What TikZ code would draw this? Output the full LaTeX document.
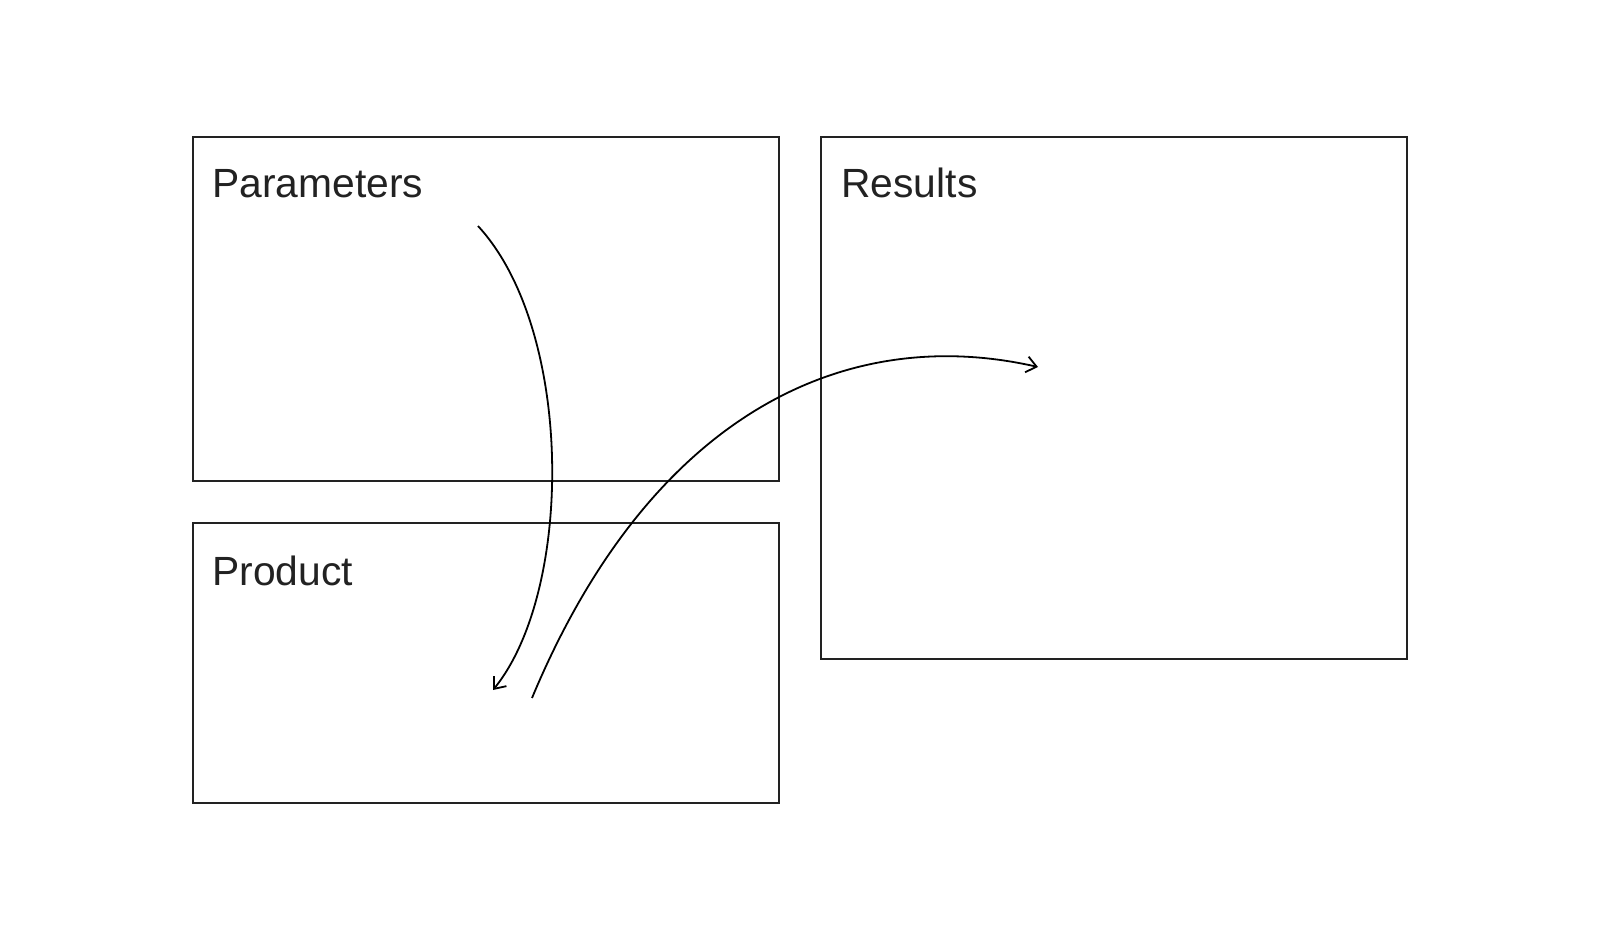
\documentclass[tikz,border=0pt]{standalone}
\usepackage{fontspec}
\setmainfont{Liberation Sans}
\usetikzlibrary{arrows.meta}
\definecolor{ink}{HTML}{222222}
\begin{document}
\begin{tikzpicture}[x=0.5pt,y=-0.5pt,
  box/.style={draw=ink, line width=1pt, rectangle, inner sep=0pt, outer sep=0pt, anchor=north west},
  title/.style={anchor=base west, inner sep=0pt, text=ink, font=\fontsize{20.4}{24}\selectfont},
  conn/.style={draw=black, line width=0.9pt, -{Straight Barb[length=5pt,width=8pt,line width=0.9pt]}}]
\useasboundingbox (0,0) rectangle (1600,940);
\fill[white] (0,0) rectangle (1600,940);
\node[box, minimum width=292.75pt, minimum height=172pt] (par) at (193,137) {};
\node[box, minimum width=292.75pt, minimum height=140pt] (prod) at (193,523) {};
\node[box, minimum width=293.2pt, minimum height=261pt] (res) at (820.6,137) {};
\node[title] (tpar) at (212,198) {Parameters};
\node[title] (tprod) at (212,585) {Product};
\node[title] (tres) at (841,198) {Results};
\coordinate (a1s) at (478,226);
\coordinate (a1e) at (493,690);
\coordinate (a2s) at (532,698);
\coordinate (a2e) at (1038,367);
\draw[conn] (a1s) .. controls (574,330) and (574,590) .. (a1e);
\draw[conn] (a2s) .. controls (648,420) and (840,322) .. (a2e);
\end{tikzpicture}
\end{document}
